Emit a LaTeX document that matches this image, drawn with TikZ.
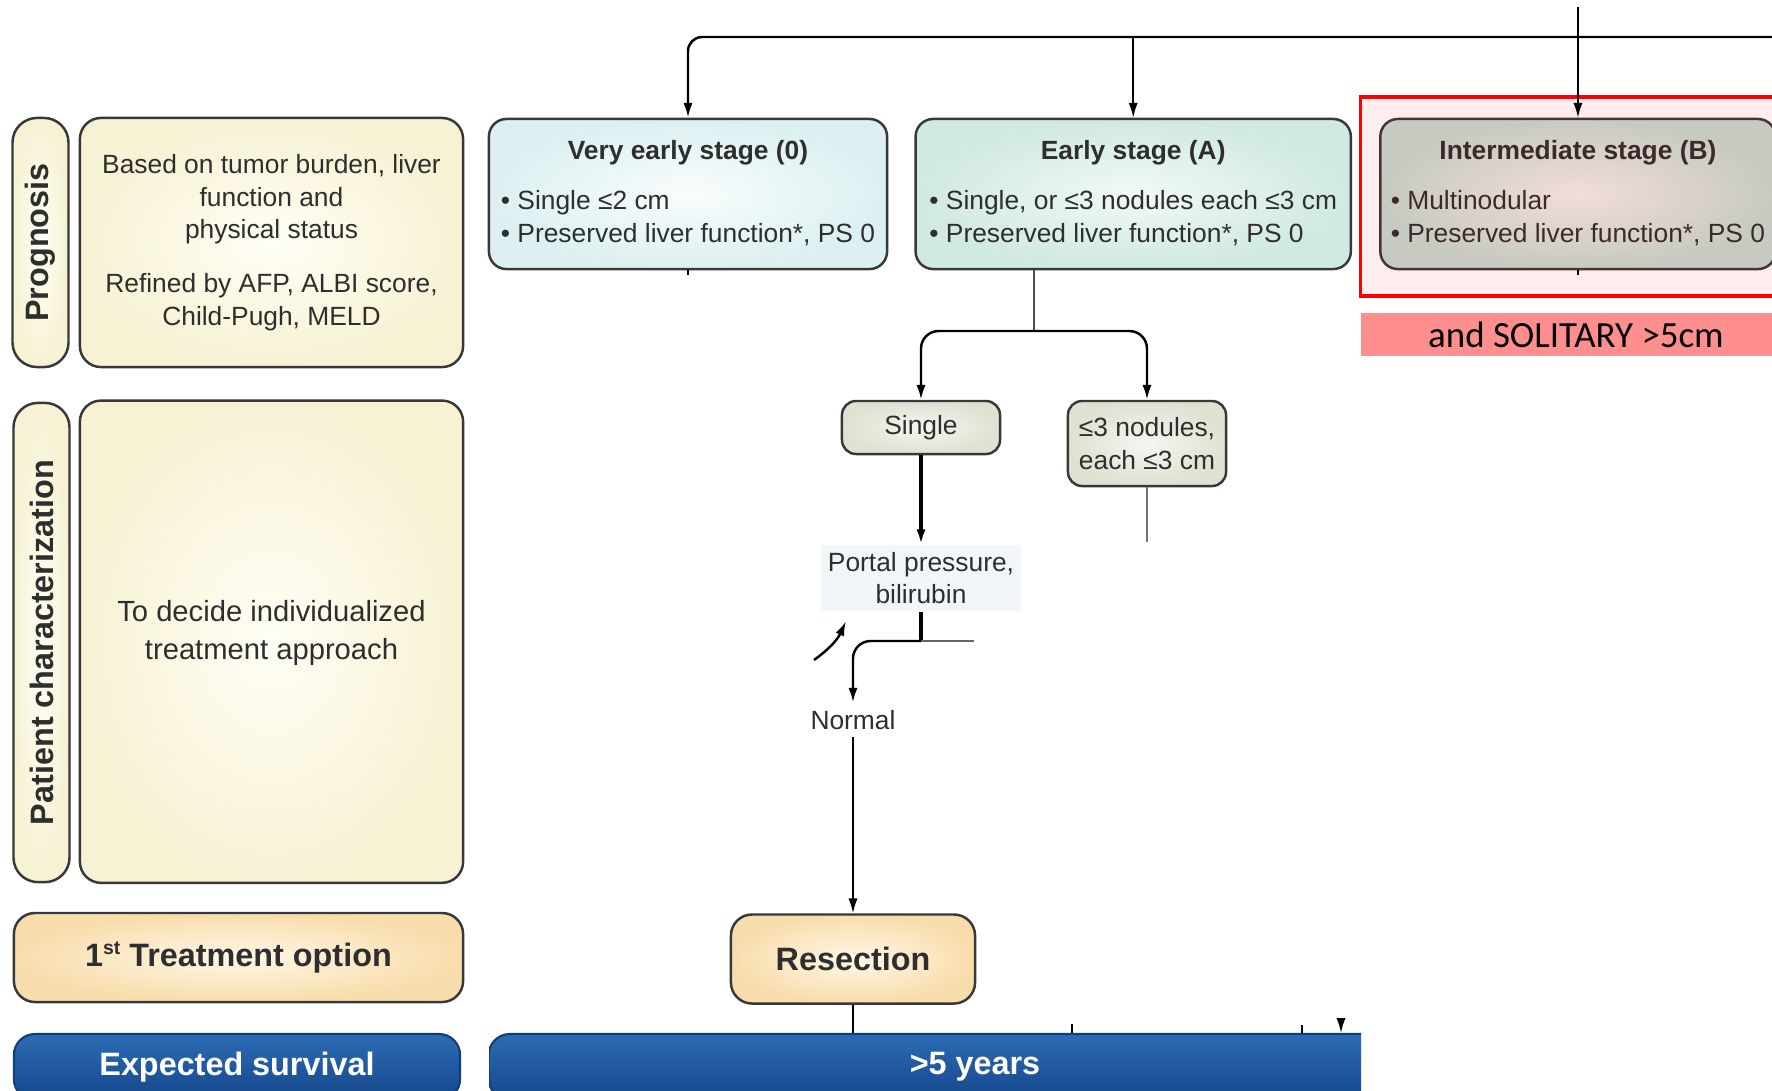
\documentclass[tikz,border=0pt]{standalone}
\usepackage{fontspec}
\setmainfont{Liberation Sans}
\newfontfamily\notefont{Carlito}
\usetikzlibrary{arrows.meta,positioning,shapes}

\definecolor{boxline}{HTML}{383838}
\definecolor{textgray}{HTML}{2E2E2E}
\definecolor{creamin}{HTML}{FFFEF5}
\definecolor{creamout}{HTML}{F7F2D4}
\definecolor{zeroin}{HTML}{F9FDFD}
\definecolor{zeroout}{HTML}{DCF0F1}
\definecolor{ain}{HTML}{F1F9F6}
\definecolor{aout}{HTML}{D0E9E3}
\definecolor{bin}{HTML}{F1EEEB}
\definecolor{bout}{HTML}{C3DACF}
\definecolor{subin}{HTML}{F5F6F0}
\definecolor{subout}{HTML}{DDE2D1}
\definecolor{treatin}{HTML}{FFF7E6}
\definecolor{treatout}{HTML}{F8DDAC}
\definecolor{bartop}{HTML}{2C6CB4}
\definecolor{barbot}{HTML}{15468B}
\definecolor{barline}{HTML}{123E78}
\definecolor{portalfill}{HTML}{F1F7F9}
\definecolor{bandfill}{HTML}{FF8F8F}

\newcommand{\boxfont}{\fontsize{7.5}{9.3}\selectfont}
\newcommand{\headfont}{\fontsize{9.2}{11}\selectfont\bfseries}
\newcommand{\stagetxt}[2]{\begin{tabular}{@{}c@{}}\textbf{#1}\\[5pt]\begin{tabular}[t]{@{}l@{}}#2\end{tabular}\end{tabular}}

\begin{document}
\begin{tikzpicture}[
  x=0.01cm, y=-0.01cm,
  >={Latex[length=4.2pt,width=2.6pt]},
  every node/.style={inner sep=2pt, font=\boxfont, text=textgray},
  rbox/.style={draw=boxline, line width=0.7pt, rounded corners=5pt, shade},
  creambox/.style={rbox, inner color=creamin, outer color=creamout, minimum width=3.83cm, align=center, rounded corners=6pt},
  sidelabel/.style={rbox, inner color=creamin, outer color=creamout, rotate=90, font=\headfont, minimum height=0.56cm, rounded corners=7pt},
  stagebox/.style={rbox, minimum height=1.5cm},
  subbox/.style={rbox, inner color=subin, outer color=subout, minimum width=1.58cm, rounded corners=4pt, align=center},
  treatbox/.style={rbox, inner color=treatin, outer color=treatout, minimum height=0.89cm, font=\headfont, rounded corners=6pt},
  survbar/.style={draw=barline, line width=0.6pt, rounded corners=6pt, top color=bartop, bottom color=barbot, text=white, font=\headfont, minimum height=0.66cm},
  highlight/.style={draw=red, line width=0.9pt, fill=red, fill opacity=0.07},
  link/.style={draw=black, line width=0.5pt},
  ]
  \useasboundingbox (0,0) rectangle (1772,1090);

  \node[sidelabel, minimum width=2.49cm] (progLabel) at (40.5,242.5) {Prognosis};
  \node[creambox, minimum height=2.49cm] (progText) at (271.5,242.5) {Based on tumor burden, liver\\function and\\physical status\\[6pt]Refined by AFP, ALBI score,\\Child-Pugh, MELD};
  \node[sidelabel, minimum width=4.79cm] (pcLabel) at (41.5,642.5) {Patient characterization};
  \node[creambox, minimum height=4.82cm, below=0.31cm of progText, font=\fontsize{8.3}{10.8}\selectfont] (pcText) {To decide individualized\\treatment approach\\[-4pt]};
  \node[treatbox, minimum width=4.49cm] (treatLabel) at (238.5,957.5) {1\raisebox{3.2pt}{\fontsize{5.5}{6}\selectfont st} Treatment option};
  \node[survbar, minimum width=4.46cm] (survLabel) at (237,1067) {Expected survival};

  \node[stagebox, inner color=zeroin, outer color=zeroout, minimum width=3.98cm] (stage0) at (688,194) {\stagetxt{Very early stage (0)}{• Single ≤2 cm\\• Preserved liver function*, PS 0}};
  \node[stagebox, inner color=ain, outer color=aout, minimum width=4.35cm, right=0.26cm of stage0] (stageA) {\stagetxt{Early stage (A)}{• Single, or ≤3 nodules each ≤3 cm\\• Preserved liver function*, PS 0}};
  \node[stagebox, inner color=bin, outer color=bout, minimum width=3.95cm, right=0.27cm of stageA] (stageB) {\stagetxt{Intermediate stage (B)}{• Multinodular\\• Preserved liver function*, PS 0}};
  \node[highlight, minimum width=4.29cm, minimum height=1.99cm] (focusB) at (1575.5,196.5) {};
  \node[fill=bandfill, inner sep=0pt, minimum width=4.30cm, minimum height=0.43cm, text=black, font=\notefont\fontsize{10.5}{12}\selectfont] (solitary) at (1576,334.5) {and SOLITARY >5cm};

  \node[subbox, minimum height=0.53cm] (single) at (921,427.5) {Single};
  \node[subbox, minimum height=0.85cm] (nodules) at (1147,443.5) {≤3 nodules,\\each ≤3 cm};
  \node[fill=portalfill, align=center, minimum width=1.94cm, minimum height=0.64cm] (portal) at (921,578) {Portal pressure,\\bilirubin};
  \node (normal) at (853,720) {Normal};
  \node[treatbox, minimum width=2.44cm] (resection) at (853,959) {Resection};
  \begin{scope}
    \clip (489,1000) rectangle (1361,1100);
    \node[survbar, minimum width=9.72cm] (years) at (975,1067) {>5 years};
  \end{scope}

  \coordinate (topright) at (1772,37);
  \coordinate (topin) at ([yshift=1.11cm]stageB.north);
  \coordinate (stub0) at ([yshift=-0.05cm]stage0.south);
  \coordinate (stubB) at ([yshift=-0.05cm]stageB.south);
  \coordinate (splitA) at (1034,331);
  \coordinate (nodulesEnd) at (1147,542);
  \coordinate (splitP) at (921,641);
  \coordinate (stubP) at (974,641);
  \coordinate (fragA) at (814,660);
  \coordinate (fragB) at (846,621);
  \coordinate (tickA) at (1072,1024);
  \coordinate (tickB) at (1302,1025);
  \coordinate (tickC) at (1341,1024);

  \draw [link, line width=0.7pt, rounded corners=4pt, ->] (topright) -| (stage0.north);
  \draw [link, ->] (stageA.north |- topright) -- (stageA.north);
  \draw [link, ->] (topin) -- (stageB.north);
  \draw [link] (stage0.south) -- (stub0);
  \draw [link] (stageB.south) -- (stubB);
  \draw [link, draw=black!70] (stageA.south -| splitA) -- (splitA);
  \draw [link, line width=0.7pt, rounded corners=5pt, ->] (splitA) -| (single.north);
  \draw [link, line width=0.7pt, rounded corners=5pt, ->] (splitA) -| (nodules.north);
  \draw [link, draw=black!55, line width=0.4pt] (nodules.south) -- (nodulesEnd);
  \draw [link, line width=1pt, ->] (single.south) -- (portal.north);
  \draw [link, line width=1pt] (portal.south) -- (splitP);
  \draw [link, line width=0.7pt, rounded corners=5pt, ->] (splitP) -| (normal.north);
  \draw [link, draw=black!60, line width=0.4pt] (splitP) -- (stubP);
  \draw [link, line width=0.7pt, ->] (fragA) to[bend right=15] (fragB);
  \draw [link, ->] (normal.south) -- (resection.north);
  \draw [link] (resection.south) -- (resection.south |- years.north);
  \draw [link] (tickA) -- (tickA |- years.north);
  \draw [link, line width=0.8pt] (tickB) -- (tickB |- years.north);
  \draw [link, ->] (tickC) -- (tickC |- years.north);

\end{tikzpicture}
\end{document}
